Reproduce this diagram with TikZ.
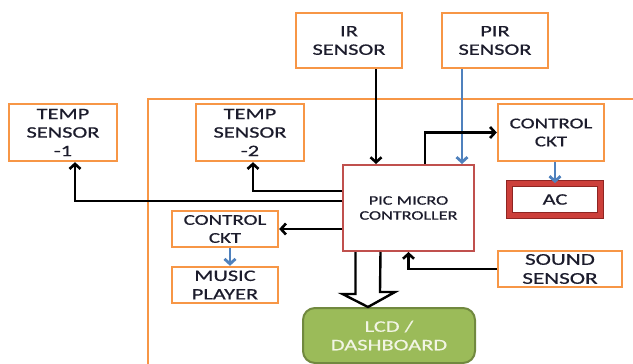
\documentclass[tikz,border=0pt]{standalone}
\usepackage{fontspec}
\newfontfamily\blockfont[FakeStretch=1.4, FakeBold=0.6]{Carlito}
\usetikzlibrary{arrows.meta}
\definecolor{boxorange}{HTML}{F79646}
\definecolor{picred}{HTML}{C0504D}
\definecolor{acred}{HTML}{CC3F3A}
\definecolor{acdark}{HTML}{8E2522}
\definecolor{wireblue}{HTML}{4F81BD}
\definecolor{lcdgreen}{HTML}{9BBB59}
\definecolor{lcdedge}{HTML}{71893F}
\definecolor{lcdtext}{HTML}{F2F5E4}
\definecolor{labelink}{HTML}{1C1C2C}
\tikzstyle{orangebox}=[draw=boxorange, line width=2.4pt, fill=white, inner sep=0pt, align=center, text=labelink, font=\blockfont\fontsize{16}{18.5}\selectfont]
\tikzstyle{picbox}=[draw=picred, line width=2pt, fill=white, inner sep=0pt, align=center, text=labelink, font=\blockfont\fontsize{13}{15}\selectfont]
\tikzstyle{acbox}=[draw=acdark, double=acred, double distance=5.4pt, line width=0.8pt, fill=white, inner sep=0pt, text=labelink, font=\blockfont\fontsize{16}{18.5}\selectfont]
\tikzstyle{lcdbox}=[draw=lcdedge, line width=2pt, fill=lcdgreen, rounded corners=12pt, inner sep=0pt, align=center, text=lcdtext, font=\blockfont\fontsize{16}{18.5}\selectfont]
\tikzstyle{wire}=[draw=black, line width=2.6pt, -{Straight Barb[length=5pt,width=11pt]}]
\tikzstyle{bluewire}=[draw=wireblue, line width=2.8pt, -{Straight Barb[length=5pt,width=11pt]}]
\tikzstyle{hollow}=[draw=black, line width=2.4pt, fill=white, line join=miter]

\begin{document}
\begin{tikzpicture}[x=1pt, y=-1pt]
    \useasboundingbox (0,0) rectangle (633,364);
% Frame lines
    \draw[boxorange, line width=2pt] (148,364) -- (148,99) -- (633,99);
% Blocks
    \node[orangebox, minimum width=106pt, minimum height=55pt] (ir) at (349,40.5) {IR\\SENSOR};
    \node[orangebox, minimum width=106pt, minimum height=55pt] (pir) at (495,40.5) {PIR\\SENSOR};
    \node[orangebox, minimum width=108pt, minimum height=57pt] (temp1) at (63,132.5) {TEMP\\SENSOR\\-1};
    \node[orangebox, minimum width=108pt, minimum height=57pt] (temp2) at (250,132.5) {TEMP\\SENSOR\\-2};
    \node[orangebox, minimum width=106pt, minimum height=57pt, font=\blockfont\fontsize{15}{18}\selectfont] (ctrla) at (551,132.5) {CONTROL\\CKT};
    \node[picbox, minimum width=131pt, minimum height=86pt] (pic) at (408.5,208) {PIC MICRO\\CONTROLLER};
    \node[acbox, minimum width=91pt, minimum height=32pt] (ac) at (555,199.5) {AC};
    \node[orangebox, minimum width=106pt, minimum height=36pt, font=\blockfont\fontsize{15}{18}\selectfont] (ctrlb) at (225,229) {CONTROL\\CKT};
    \node[orangebox, minimum width=106pt, minimum height=36pt] (music) at (225,285) {MUSIC\\PLAYER};
    \node[orangebox, minimum width=124pt, minimum height=36pt, font=\blockfont\fontsize{16.5}{19}\selectfont] (sound) at (560,269) {SOUND\\SENSOR};
    \node[lcdbox, minimum width=172pt, minimum height=55pt] (lcd) at (389,335.5) {LCD /\\DASHBOARD};
% Signal lines
    \draw[wire] ([xshift=27pt]ir.south) -- ([xshift=27pt]ir.south |- pic.north);
    \draw[bluewire] ([xshift=-33pt]pir.south) -- ([xshift=-33pt]pir.south |- pic.north);
    \draw[wire] ([xshift=16.5pt]pic.north) |- (ctrla.west);
    \draw[bluewire] (ac.north |- ctrla.south) -- (ac.north);
    \draw[wire] ([yshift=17pt]pic.west) -| ([xshift=3pt]temp2.south);
    \draw[wire] ([yshift=7pt]pic.west) -| ([xshift=12pt]temp1.south);
    \draw[wire] (pic.west |- ctrlb.east) -- (ctrlb.east);
    \draw[bluewire] ([xshift=5pt]ctrlb.south) -- ([xshift=5pt]music.north);
    \draw[wire] (sound.west) -| (pic.south);
% Data bus to the display
    \coordinate (tip) at ([xshift=-21pt]lcd.north);
    \draw[hollow] ([xshift=-53pt]pic.south) -- ++(0,42) -- ++(-13,0) -- (tip) -- ++(27,-15) -- ++(-15,0) -- ([xshift=-28pt]pic.south);
\end{tikzpicture}
\end{document}
